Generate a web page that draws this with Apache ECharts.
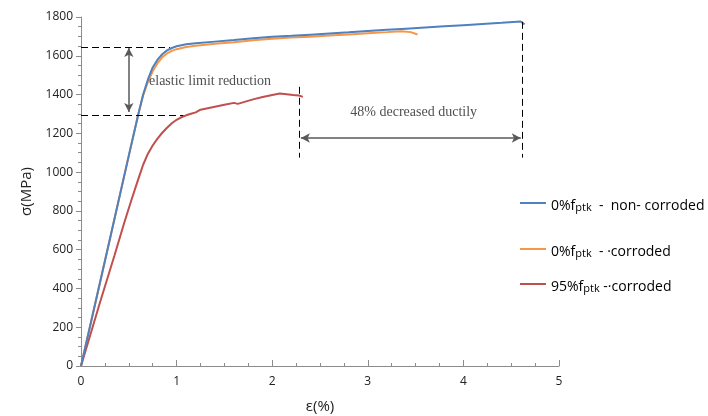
<!DOCTYPE html>
<html>
<head>
<meta charset="utf-8">
<script src="https://cdn.jsdelivr.net/npm/echarts@6/dist/echarts.min.js"></script>
<style>html,body{margin:0;padding:0;background:#fff}#c{width:708px;height:416px}</style>
</head>
<body>
<div id="c"></div>
<script>
// strain (%) / stress (MPa)
var nonCorrodedEps = [0,0.3,0.5,0.6,0.65,0.7,0.75,0.8,0.85,0.9,0.95,1.0,1.1,1.2,1.4,1.6,1.8,2.0,2.2,2.4,2.6,2.8,3.0,3.2,3.4,3.6,3.8,4.0,4.2,4.4,4.6,4.62,4.64];
var nonCorrodedSig = [0,650,1085,1300,1400,1478,1540,1580,1608,1628,1640,1649,1659,1665,1673,1681,1690,1698,1703,1709,1715,1721,1728,1734,1740,1746,1752,1758,1764,1770,1777,1780,1762];
var corrodedEps = [0,0.3,0.5,0.6,0.65,0.7,0.75,0.8,0.85,0.9,0.95,1.0,1.1,1.2,1.4,1.6,1.8,2.0,2.2,2.4,2.6,2.8,3.0,3.2,3.35,3.45,3.52];
var corrodedSig = [0,650,1085,1300,1395,1465,1520,1562,1592,1612,1625,1634,1645,1652,1662,1670,1680,1688,1694,1698,1704,1710,1716,1722,1727,1722,1710];
var loaded95Eps = [0,0.2,0.35,0.45,0.53,0.6,0.65,0.7,0.75,0.8,0.85,0.9,0.95,1.0,1.05,1.1,1.15,1.2,1.22,1.25,1.3,1.4,1.5,1.6,1.62,1.64,1.66,1.8,1.9,2.0,2.08,2.15,2.22,2.28,2.3,2.32];
var loaded95Sig = [0,330,570,735,860,965,1038,1095,1137,1173,1203,1229,1252,1270,1283,1293,1301,1308,1318,1322,1327,1337,1347,1357,1362,1352,1360,1375,1387,1398,1405,1402,1398,1395,1390,1388];
var seriesNames = ['0%fptk - non-corroded','0%fptk - corroded','95%fptk - corroded'];
var legendPrefix = ['0%f','0%f','95%f'];
var legendSuffix = ['  -  non- corroded','  - \u00b7corroded',' -\u00b7corroded'];
var xTicks = [0,1,2,3,4,5];
var yTicks = [0,200,400,600,800,1000,1200,1400,1600,1800];
// annotation anchors (data coords)
var elasticUpper = 1645, elasticLower = 1295;
var ductEnd95 = 2.28, ductEnd0 = 4.62;

function zip(a,b){return a.map(function(v,i){return [v,b[i]];});}
var colors = ['#4F81BD','#F79646','#C0504D'];
var chart = echarts.init(document.getElementById('c'));
var dashed = {color:'#000',type:[7,4],width:1};
var arrowStyle = {color:'#595959',type:'solid',width:1.5};
var legends = [204,250,285].map(function(top,i){
  return {
    data:[seriesNames[i]], left:520, top:top-5, padding:0, itemWidth:26, itemHeight:2, itemGap:0,
    icon:'rect',
    formatter:function(){return '{a|'+legendPrefix[i]+'}{b|ptk}{a|'+legendSuffix[i]+'}';},
    textStyle:{rich:{
      a:{fontFamily:'Open Sans',fontSize:14,color:'#000',verticalAlign:'bottom',lineHeight:20},
      b:{fontFamily:'Open Sans',fontSize:11,color:'#000',verticalAlign:'bottom',lineHeight:14}
    }}
  };
});
chart.setOption({
  animation:false,
  color:colors,
  legend:legends,
  grid:{left:81,right:149,top:17,bottom:50,outerBoundsMode:'none',containLabel:false},
  xAxis:{type:'value',min:0,max:5,interval:1,name:'ε(%)',nameLocation:'middle',nameGap:33,
    nameTextStyle:{fontFamily:'Open Sans',fontSize:15,color:'#222'},
    axisLine:{lineStyle:{color:'#8c8c8c',width:1}},
    axisTick:{inside:true,length:6,lineStyle:{color:'#8c8c8c'}},
    minorTick:{show:true,splitNumber:4,length:3,lineStyle:{color:'#8c8c8c'}},
    axisLabel:{fontFamily:'Open Sans',fontSize:12,color:'#222',margin:10,
      formatter:function(v){return xTicks.indexOf(v)>=0?String(v):'';}},
    splitLine:{show:false}},
  yAxis:{type:'value',min:0,max:1800,interval:200,name:'σ(MPa)',nameLocation:'middle',nameGap:45,
    nameTextStyle:{fontFamily:'Open Sans',fontSize:15,color:'#222'},
    axisLine:{show:true,lineStyle:{color:'#8c8c8c',width:1}},
    axisTick:{show:true,length:5,lineStyle:{color:'#8c8c8c'}},
    minorTick:{show:true,splitNumber:4,length:3,lineStyle:{color:'#8c8c8c'}},
    axisLabel:{fontFamily:'Open Sans',fontSize:12,color:'#222',margin:8,
      formatter:function(v){return yTicks.indexOf(v)>=0?String(v):'';}},
    splitLine:{show:false}},
  series:[
    {name:seriesNames[0],type:'line',symbol:'none',data:zip(nonCorrodedEps,nonCorrodedSig),lineStyle:{width:2},z:4},
    {name:seriesNames[1],type:'line',symbol:'none',data:zip(corrodedEps,corrodedSig),lineStyle:{width:2},z:3},
    {name:seriesNames[2],type:'line',symbol:'none',data:zip(loaded95Eps,loaded95Sig),lineStyle:{width:2},z:3},
    {name:'annot',type:'line',data:[],silent:true,
      markLine:{silent:true,symbol:['none','none'],label:{show:false},animation:false,
        data:[
          [{coord:[0,elasticUpper],lineStyle:dashed},{coord:[0.93,elasticUpper]}],
          [{coord:[0,elasticLower],lineStyle:dashed},{coord:[1.07,elasticLower]}],
          [{coord:[ductEnd95,1440],lineStyle:dashed},{coord:[ductEnd95,1075]}],
          [{coord:[ductEnd0,1775],lineStyle:dashed},{coord:[ductEnd0,1075]}]
        ]}},
    {name:'arrows',type:'line',data:[],silent:true,
      markLine:{silent:true,symbol:['arrow','arrow'],symbolSize:[7,9],label:{show:false},animation:false,
        lineStyle:arrowStyle,
        data:[
          [{coord:[0.5,elasticUpper-5]},{coord:[0.5,elasticLower+15]}],
          [{coord:[ductEnd95+0.02,1176]},{coord:[ductEnd0-0.02,1176]}]
        ]}},
    {name:'texts',type:'scatter',symbolSize:0,silent:true,z:10,
      data:[{value:[1.35,1470],label:{formatter:'elastic limit reduction'}},
            {value:[3.48,1310],label:{formatter:'48% decreased ductily'}}],
      label:{show:true,position:'inside',fontFamily:'Liberation Serif',fontSize:14,color:'#222'}}
  ]
});
</script>
</body>
</html>
